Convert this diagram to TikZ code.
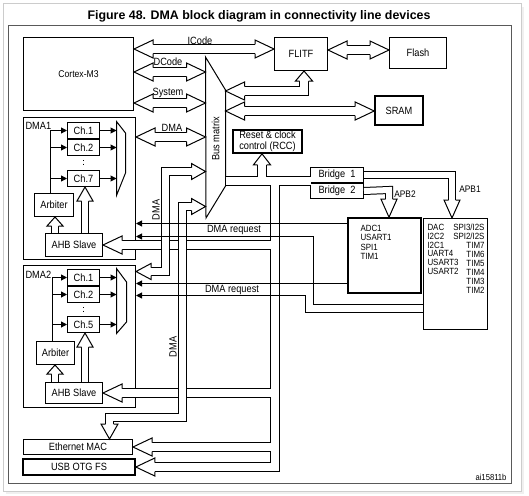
\documentclass[tikz,border=0pt]{standalone}
\usepackage{fontspec}
\setmainfont{Liberation Sans}[FakeStretch=0.88]
\newfontfamily\titlefont{Liberation Sans}
\usetikzlibrary{positioning, arrows.meta}
\tikzstyle{box} = [draw, rectangle, inner sep=0pt, line width=1pt]
\tikzstyle{tbox} = [box, line width=1.6pt]
\tikzstyle{chan} = [box, minimum width=32pt, minimum height=16pt]
\tikzstyle{bus} = [double=white, double distance=8pt, line width=1pt, line join=miter]
\tikzstyle{gbus} = [bus, double distance=7pt]
\tikzstyle{sbus} = [bus, double distance=6pt]
\tikzstyle{busout} = [line width=10pt, line join=miter]
\tikzstyle{busin} = [white, line width=8pt, line join=miter]
\tikzstyle{req} = [-{Triangle[length=6pt, width=6pt]}]
\tikzset{pics/hd/.style n args={3}{code={
  \fill[white] (0,0) -- (-#1,#2) -- (-#1,-#2) -- cycle;
  \draw (-#1,#3) -- (-#1,#2) -- (0,0) -- (-#1,-#2) -- (-#1,-#3);}}}

\begin{document}
\begin{tikzpicture}
    [x=1pt, y=-1pt, line width=1pt, align=center, font=\fontsize{10.5}{12}\selectfont]
    \useasboundingbox (0,0) rectangle (529,495);

    %% Frame
    \fill[gray!12] (6,7) rectangle (524,494);
    \filldraw[fill=white, draw=gray!40] (3.5,3.5) rectangle (521.5,491.5);
    \draw[gray!70!black] (8.5,25.5) rectangle (511.5,483.5);
    \node[font=\titlefont\bfseries\fontsize{12.4}{14}\selectfont] (title) at (259,16)
        {Figure 48. DMA block diagram in connectivity line devices};
    \node[font=\fontsize{8.7}{10}\selectfont] (ref) at (491,477) {ai15811b};

    %% Core and memories
    \node [box, minimum width=110pt, minimum height=73pt, font=\fontsize{9.8}{11}\selectfont] (cortex) at (78.5,74) {Cortex-M3};
    \node [box, minimum width=53pt, minimum height=33pt] (flitf) at (301,54) {FLITF};
    \node [box, minimum width=57pt, minimum height=31pt] (flash) at (418,53) {Flash};
    \node [tbox, minimum width=48pt, minimum height=29pt] (sram) at (399,110.5) {SRAM};

    %% Bus matrix
    \draw (205.5,57) -- (225.5,90) -- (225.5,186) -- (206,218) -- cycle;
    \node [rotate=90] (bmx) at (215.5,139) {Bus matrix};

    %% RCC and bridges
    \node [tbox, minimum width=69pt, minimum height=23pt, align=left, font=\fontsize{10.5}{11}\selectfont] (rcc) at (267.5,141.5) {Reset \& clock\\control (RCC)};
    \node [box, minimum width=53pt, minimum height=15pt] (br1) at (337,175) {Bridge\ \ 1};
    \node [box, minimum width=53pt, minimum height=15pt, below=0pt of br1] (br2) {Bridge\ \ 2};

    %% Peripherals
    \node [tbox, minimum width=73pt, minimum height=75pt] (apb2) at (384.5,255.5) {};
    \node [anchor=north west, align=left, inner sep=0pt, font=\fontsize{9}{9.5}\selectfont] (apb2lst) at (360,224.5) {ADC1\\USART1\\SPI1\\TIM1};
    \node [box, minimum width=64pt, minimum height=111pt] (apb1) at (455.5,274) {};
    \node [anchor=north west, align=left, inner sep=0pt, font=\fontsize{9}{8.9}\selectfont] (apb1l) at (427,223.5) {DAC\\I2C2\\I2C1\\UART4\\USART3\\USART2};
    \node [anchor=north east, align=right, inner sep=0pt, font=\fontsize{9}{9}\selectfont] (apb1r) at (485,223.5) {SPI3/I2S\\SPI2/I2S\\TIM7\\TIM6\\TIM5\\TIM4\\TIM3\\TIM2};

    %% DMA1
    \node [box, minimum width=112pt, minimum height=142pt] (dma1) at (79.5,188.5) {};
    \node [anchor=north west, inner sep=0pt] (dma1lbl) at (25,122) {DMA1};
    \node [chan] (c11) at (83.5,130.5) {Ch.1};
    \node [chan, below=0pt of c11] (c12) {Ch.2};
    \node [chan] (c17) at (83.5,178.5) {Ch.7};
    \draw (116.5,121.5) -- (125.5,133) -- (125.5,173) -- (116.5,195.5) -- cycle;
    \coordinate (mx1) at (116.5,121.5);
    \node [box, minimum width=39pt, minimum height=23pt] (arb1) at (54,205) {Arbiter};
    \node [box, minimum width=57pt, minimum height=23pt] (ahb1) at (74,245) {AHB Slave};

    %% DMA2
    \node [box, minimum width=112pt, minimum height=142pt] (dma2) at (79.5,336.5) {};
    \node [anchor=north west, inner sep=0pt] (dma2lbl) at (25,271) {DMA2};
    \node [chan] (c21) at (83.5,277.5) {Ch.1};
    \node [chan, below=0pt of c21] (c22) {Ch.2};
    \node [chan] (c25) at (83.5,324.5) {Ch.5};
    \draw (116.5,268.5) -- (126.5,282) -- (126.5,322) -- (116.5,333.5) -- cycle;
    \coordinate (mx2) at (116.5,268.5);
    \node [box, minimum width=38pt, minimum height=23pt] (arb2) at (55.5,353) {Arbiter};
    \node [box, minimum width=57pt, minimum height=21pt] (ahb2) at (74,393) {AHB Slave};

    %% Ethernet and USB
    \node [box, minimum width=109pt, minimum height=15pt] (eth) at (78,447) {Ethernet MAC};
    \node [tbox, minimum width=112pt, minimum height=16pt] (usb) at (79,467) {USB OTG FS};

    %% Bus end points
    \coordinate (ic1) at (134,49);     \coordinate (ic2) at (274,49);
    \coordinate (dc1) at (134,72);     \coordinate (dc2) at (205.5,72);
    \coordinate (sy1) at (134,103);    \coordinate (sy2) at (205.5,103);
    \coordinate (dm1) at (136,137);    \coordinate (dm2) at (205.5,137);
    \coordinate (ff1) at (328,50);     \coordinate (ff2) at (389,50);
    \coordinate (fb1) at (225.5,91);   \coordinate (fb2) at (304,71);
    \coordinate (sr1) at (225.5,111);  \coordinate (sr2) at (374.2,111);
    \coordinate (ahbl) at (225.5,181); \coordinate (ahbr) at (310.5,181);
    \coordinate (rcct) at (262,153.8);
    \coordinate (etht) at (133,447);   \coordinate (usbt) at (135.8,467);
    \coordinate (s1t) at (103,245);    \coordinate (s2t) at (103,393);
    \coordinate (g1r) at (205.5,171.5);  \coordinate (g1l) at (136,271.5);
    \coordinate (g2r) at (205.5,206.5);  \coordinate (g2d) at (109.5,439);
    \coordinate (p1t) at (452,218);    \coordinate (p2t) at (389,217.2);

    %% AHB bus tree
    \foreach \ly in {busout, busin}
      \draw [\ly] (ahbl) -- (ahbr)
        ([yshift=-11pt]rcct) -- (262,181)
        (275,181) -- (275,467) -- ([xshift=19pt]usbt)
        (275,447) -- ([xshift=19pt]etht)
        (275,245) -- ([xshift=19pt]s1t)
        (275,393) -- ([xshift=19pt]s2t);
    \pic [rotate=90] at (rcct) {hd={11}{8.5}{4.5}};
    \pic [rotate=180] at (usbt) {hd={19}{9}{4.5}};
    \pic [rotate=180] at (etht) {hd={19}{9}{4.5}};
    \pic [rotate=180] at (s1t) {hd={19}{9}{4.5}};
    \pic [rotate=180] at (s2t) {hd={19}{9}{4.5}};

    %% DMA2 and Ethernet DMA buses
    \draw [gbus] ([xshift=-14pt]g1r) -- (165.5,171.5) -- (165.5,271.5) -- ([xshift=15pt]g1l);
    \pic at (g1r) {hd={14}{8}{4}};
    \pic [rotate=180] at (g1l) {hd={15}{8}{4}};
    \draw [gbus] ([xshift=-14pt]g2r) -- (182.5,206.5) -- (182.5,417.5) -- (109.5,417.5) -- ([yshift=15pt]g2d);
    \pic at (g2r) {hd={14}{8}{4}};
    \pic [rotate=-90] at (g2d) {hd={15}{8.5}{4}};
    \node [rotate=90] (dmaa) at (156,210) {DMA};
    \node [rotate=90] (dmab) at (173,347) {DMA};

    %% Core buses
    \draw [bus] ([xshift=19pt]ic1) -- ([xshift=-19pt]ic2);
    \pic [rotate=180] at (ic1) {hd={19}{9}{4.5}};
    \pic at (ic2) {hd={19}{9}{4.5}};
    \node (icode) at (200,40.5) {ICode};
    \draw [bus] ([xshift=19pt]dc1) -- ([xshift=-19pt]dc2);
    \pic [rotate=180] at (dc1) {hd={19}{9}{4.5}};
    \pic at (dc2) {hd={19}{9}{4.5}};
    \node (dcode) at (168,62) {DCode};
    \draw [bus] ([xshift=19pt]sy1) -- ([xshift=-19pt]sy2);
    \pic [rotate=180] at (sy1) {hd={19}{9}{4.5}};
    \pic at (sy2) {hd={19}{9}{4.5}};
    \node (sysbus) at (168,92.5) {System};
    \draw [bus] ([xshift=19pt]dm1) -- ([xshift=-19pt]dm2);
    \pic [rotate=180] at (dm1) {hd={19}{9}{4.5}};
    \pic at (dm2) {hd={19}{9}{4.5}};
    \node (dma1bus) at (172,128) {DMA};

    %% Memory buses
    \draw [bus] ([xshift=19pt]ff1) -- ([xshift=-19pt]ff2);
    \pic [rotate=180] at (ff1) {hd={19}{9}{4.5}};
    \pic at (ff2) {hd={19}{9}{4.5}};
    \draw [bus] ([xshift=19pt]fb1) -- (304,91) -- ([yshift=-10pt]fb2);
    \pic [rotate=180] at (fb1) {hd={19}{9}{4.5}};
    \pic [rotate=90] at (fb2) {hd={10}{8.5}{4.5}};
    \draw [bus] ([xshift=19pt]sr1) -- ([xshift=-19pt]sr2);
    \pic [rotate=180] at (sr1) {hd={19}{9}{4.5}};
    \pic at (sr2) {hd={19}{9}{4.5}};

    %% APB buses
    \draw [sbus] (br1.east) -- (452,175) -- ([yshift=18pt]p1t);
    \pic [rotate=-90] at (p1t) {hd={18}{8}{3.5}};
    \draw [sbus] (br2.east) -- (389,190) -- ([yshift=18pt]p2t);
    \pic [rotate=-90] at (p2t) {hd={18}{8}{3.5}};
    \node [font=\fontsize{9.5}{11}\selectfont] (apb1lbl) at (470,189) {APB1};
    \node [font=\fontsize{9.5}{11}\selectfont] (apb2lbl) at (405,194) {APB2};

    %% Inside DMA1
    \draw [sbus] (85,233) -- ([yshift=-14pt]85,187);
    \pic [rotate=90] at (85,187) {hd={14}{8}{3.5}};
    \draw [sbus] (55,233) -- ([yshift=-9pt]55,217);
    \pic [rotate=90] at (55,217) {hd={9}{8}{3.5}};
    \draw [dash pattern=on 1pt off 2.5pt, shorten >=4pt, shorten <=4pt] (c12.south) -- (c17.north);
    \draw [req] ([xshift=-3.5pt]arb1.north) |- (c11.west);
    \draw [req] ([xshift=-3.5pt]arb1.north) |- (c12.west);
    \draw [req] ([xshift=-3.5pt]arb1.north) |- (c17.west);
    \draw [req] (c11.east) -- (c11.east -| mx1);
    \draw [req] (c12.east) -- (c12.east -| mx1);
    \draw [req] (c17.east) -- (c17.east -| mx1);

    %% Inside DMA2
    \draw [sbus] (85,382) -- ([yshift=-14pt]85,333);
    \pic [rotate=90] at (85,333) {hd={14}{8}{3.5}};
    \draw [sbus] (55,382) -- ([yshift=-9pt]55,365);
    \pic [rotate=90] at (55,365) {hd={9}{8}{3.5}};
    \draw [dash pattern=on 1pt off 2.5pt, shorten >=4pt, shorten <=4pt] (c22.south) -- (c25.north);
    \draw [req] ([xshift=-3pt]arb2.north) |- (c21.west);
    \draw [req] ([xshift=-3pt]arb2.north) |- (c22.west);
    \draw [req] ([xshift=-3pt]arb2.north) |- (c25.west);
    \draw [req] (c21.east) -- (c21.east -| mx2);
    \draw [req] (c22.east) -- (c22.east -| mx2);
    \draw [req] (c25.east) -- (c25.east -| mx2);

    %% DMA requests
    \draw [req] (apb2.west |- 0,223.5) -- (dma1.east |- 0,223.5);
    \draw [req] (apb1.west |- 0,304.5) -| (313.5,236.5) -- (dma1.east |- 0,236.5);
    \draw [req] (apb2.west |- 0,283.5) -- (dma2.east |- 0,283.5);
    \draw [req] (apb1.west |- 0,312.5) -| (305.5,295.5) -- (dma2.east |- 0,295.5);
    \node (req1) at (234,230) {DMA request};
    \node (req2) at (232,289.5) {DMA request};

\end{tikzpicture}
\end{document}
